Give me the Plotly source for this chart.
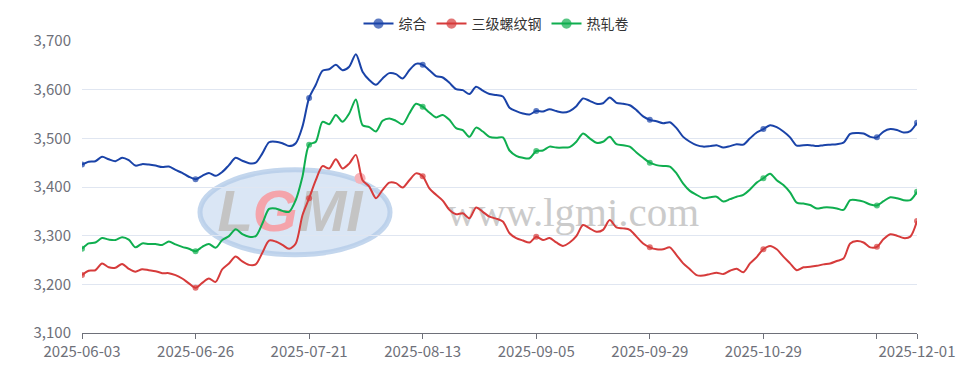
import pandas as pd
import plotly.graph_objects as go

# ---- categories: trading days (China), 2025-06-03 .. 2025-12-01 ----
holidays = ["2025-10-01", "2025-10-02", "2025-10-03", "2025-10-06", "2025-10-07", "2025-10-08"]
makeup_days = ["2025-09-28", "2025-10-11"]
days = pd.bdate_range("2025-06-03", "2025-12-01")
days = days[~days.isin(pd.to_datetime(holidays))].union(pd.to_datetime(makeup_days))
dates = [d.strftime("%Y-%m-%d") for d in days]

# ---- series values ----
composite = [
    3446, 3452, 3453, 3462, 3457, 3453, 3460, 3455, 3444, 3447,
    3446, 3444, 3441, 3442, 3435, 3429, 3421, 3416, 3423, 3429,
    3423, 3431, 3445, 3460, 3454, 3449, 3450, 3469, 3492, 3493,
    3490, 3484, 3490, 3524, 3583, 3610, 3639, 3642, 3651, 3640,
    3647, 3673, 3637, 3620, 3610, 3623, 3634, 3632, 3623, 3640,
    3653, 3651, 3640, 3628, 3625, 3614, 3601, 3599, 3591, 3606,
    3598, 3591, 3589, 3586, 3563, 3556, 3551, 3549, 3556, 3555,
    3560, 3556, 3553, 3556, 3566, 3582, 3577, 3571, 3572, 3584,
    3573, 3571, 3568, 3558, 3545, 3538, 3535, 3531, 3533, 3521,
    3503, 3493, 3486, 3483, 3484, 3486, 3481, 3484, 3488, 3487,
    3500, 3512, 3519, 3527, 3523, 3514, 3502, 3485, 3486, 3486,
    3484, 3486, 3487, 3488, 3491, 3509, 3511, 3510, 3503, 3502,
    3514, 3519, 3517, 3512, 3515, 3532,
]
rebar = [
    3219, 3228, 3229, 3243, 3235, 3234, 3242, 3232, 3226, 3231,
    3229, 3227, 3223, 3223, 3219, 3212, 3202, 3193, 3203, 3212,
    3205, 3231, 3243, 3257, 3247, 3240, 3241, 3265, 3290, 3288,
    3281, 3273, 3284, 3342, 3377, 3414, 3443, 3438, 3457, 3438,
    3448, 3466, 3414, 3401, 3377, 3394, 3409, 3408, 3399, 3414,
    3428, 3422, 3397, 3384, 3372, 3353, 3344, 3346, 3336, 3358,
    3349, 3339, 3335, 3329, 3305, 3295, 3290, 3286, 3298, 3291,
    3295, 3286, 3279, 3286, 3299, 3322, 3315, 3308, 3312, 3332,
    3317, 3315, 3312, 3298, 3284, 3276, 3272, 3272, 3276, 3260,
    3243, 3231, 3219, 3218, 3221, 3224, 3221, 3228, 3232, 3225,
    3243, 3256, 3272, 3279, 3272, 3257, 3243, 3229, 3235, 3236,
    3238, 3241, 3243, 3248, 3253, 3284, 3289, 3286, 3276, 3277,
    3293, 3303, 3300, 3295, 3298, 3330,
]
hot_coil = [
    3273, 3284, 3286, 3295, 3292, 3291, 3297, 3292, 3276, 3284,
    3283, 3283, 3281, 3288, 3282, 3277, 3273, 3268, 3277, 3283,
    3275, 3291, 3299, 3313, 3303, 3298, 3299, 3325, 3355, 3356,
    3351, 3349, 3373, 3421, 3487, 3493, 3534, 3529, 3548, 3534,
    3551, 3580, 3527, 3523, 3514, 3536, 3541, 3536, 3529, 3551,
    3571, 3565, 3553, 3543, 3548, 3538, 3521, 3517, 3503, 3522,
    3514, 3503, 3501, 3502, 3475, 3464, 3460, 3459, 3474, 3475,
    3483, 3481, 3481, 3482, 3493, 3510, 3500, 3491, 3493, 3503,
    3488, 3486, 3483, 3471, 3460, 3450, 3445, 3443, 3442, 3428,
    3407, 3392, 3384, 3377, 3379, 3380, 3370, 3375, 3380, 3384,
    3395, 3409, 3418, 3427, 3414, 3404, 3389, 3368, 3366, 3363,
    3356, 3358, 3358, 3356, 3353, 3373, 3373, 3370, 3364, 3362,
    3371, 3379, 3377, 3373, 3373, 3390,
]

series_names = ["综合", "三级螺纹钢", "热轧卷"]
series_colors = ["#1a43a8", "#d63b3b", "#0fae4f"]
y_ticks = [3100, 3200, 3300, 3400, 3500, 3600, 3700]
label_step = 17

N = len(dates)
x = list(range(N))
tick_idx = list(range(0, N, label_step)) + [N - 1]
tick_text = [dates[i] for i in tick_idx]
tick_text[-2] = ""  # label hidden (overlaps the last one)
mark_set = set(tick_idx)

FONT = "Noto Sans CJK SC, Microsoft YaHei, sans-serif"
AX = "#6e7079"

fig = go.Figure()

# ---- watermark (drawn first, under the lines) ----
xr = [0, N - 1]
yr = [y_ticks[0], y_ticks[-1]]
def wx(f):
    return xr[0] + f * (xr[1] - xr[0])
def wy(f):
    return yr[0] + f * (yr[1] - yr[0])

fig.add_shape(type="circle", xref="paper", yref="paper",
              x0=0.1413, x1=0.3689, y0=0.268, y1=0.559,
              fillcolor="rgba(205,222,241,0.75)",
              line=dict(color="rgba(180,204,232,0.8)", width=5), layer="below")
fig.add_trace(go.Scatter(
    x=[wx(0.249)], y=[wy(0.40)], mode="text",
    text=["L<span style='color:#f4a4ab'>G</span>MI"],
    textfont=dict(family="Liberation Sans", size=58, color="#c4c4c4", weight="bold", style="italic"),
    showlegend=False, hoverinfo="skip"))
fig.add_trace(go.Scatter(
    x=[wx(0.333)], y=[wy(0.53)], mode="markers",
    marker=dict(size=11, color="#f6b3b9"),
    showlegend=False, hoverinfo="skip"))
fig.add_trace(go.Scatter(
    x=[wx(0.588)], y=[wy(0.40)], mode="text", text=["www.lgmi.com"],
    textfont=dict(family="Liberation Serif", size=41, color="#cbcbcb"),
    showlegend=False, hoverinfo="skip"))

# ---- data ----
for name, vals, col in zip(series_names, [composite, rebar, hot_coil], series_colors):
    mcolors = [col if i in mark_set else "rgba(0,0,0,0)" for i in x]
    msizes = [6 if i in mark_set else 10.5 for i in x]  # hidden points are transparent
    fig.add_trace(go.Scatter(
        x=x, y=vals, name=name, mode="lines+markers",
        line=dict(color=col, width=2, shape="spline", smoothing=0.8),
        marker=dict(size=msizes, color=mcolors, line=dict(width=0)),
    ))

# the page places the figure 8px from the top-left corner
W, H, OFF = 961, 359, 8
fig.update_layout(
    width=W, height=H,
    margin=dict(l=74, r=52, t=33, b=34, autoexpand=False),
    paper_bgcolor="white", plot_bgcolor="white",
    font=dict(family=FONT, size=15, color=AX),
    legend=dict(orientation="h", x=(496 - OFF) / W, xanchor="center", xref="container",
                y=1, yanchor="top", yref="container",
                font=dict(size=14, color="#333333"), itemwidth=30,
                tracegroupgap=0, bgcolor="rgba(0,0,0,0)"),
    xaxis=dict(range=xr, tickmode="array", tickvals=tick_idx, ticktext=tick_text,
               showgrid=False, zeroline=False, showline=True, linecolor=AX, linewidth=1,
               ticks="outside", ticklen=5, tickcolor=AX, tickfont=dict(size=15, color=AX),
               automargin=False),
    yaxis=dict(range=yr, tickmode="array", tickvals=y_ticks, tickformat=",",
               showgrid=True, gridcolor="#e0e6f1", gridwidth=1, zeroline=False,
               showline=False, ticks="", ticklabelstandoff=10,
               tickfont=dict(size=15, color=AX), automargin=False),
    hovermode=False,
)

fig.write_html("out.html")
